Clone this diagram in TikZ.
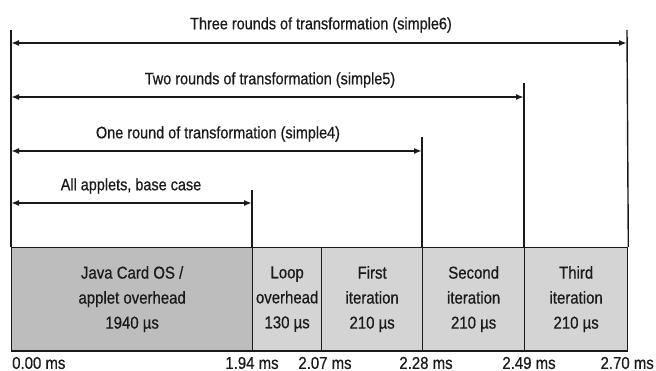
\documentclass[tikz,border=0pt]{standalone}
\usepackage{fontspec}
\setmainfont{Liberation Sans}[FakeStretch=0.87, FakeBold=0.6]
\usetikzlibrary{arrows.meta}
\definecolor{darkcell}{HTML}{BDBDBD}
\definecolor{lightcell}{HTML}{D4D4D4}
\definecolor{ink}{HTML}{1A1A1A}
\tikzset{
  span/.style={line width=2.2pt, draw=ink, {Latex[length=8pt,width=6pt]}-{Latex[length=8pt,width=6pt]}},
  tick/.style={line width=1.4pt, draw=ink},
  lbl/.style={font=\fontsize{16.6}{19}\selectfont, text=ink, inner sep=0pt},
  cell/.style={draw=ink, line width=1.3pt, anchor=north west, minimum height=103, align=center,
    font=\fontsize{17.2}{25}\selectfont, text=ink, inner sep=0pt},
  mslbl/.style={font=\fontsize{17.2}{19}\selectfont, text=ink, inner sep=0pt},
}
\begin{document}
\begin{tikzpicture}[x=1pt,y=-1pt]
\useasboundingbox (0,0) rectangle (656,371);
% cells
\node[cell, fill=darkcell, minimum width=241] (c1) at (11,247) {Java Card OS /\\applet overhead\\1940 µs};
\node[cell, fill=lightcell, minimum width=69] (c2) at (252,247) {Loop\\overhead\\130 µs};
\node[cell, fill=lightcell, minimum width=101] (c3) at (321,247) {First\\iteration\\210 µs};
\node[cell, fill=lightcell, minimum width=102] (c4) at (422,247) {Second\\iteration\\210 µs};
\node[cell, fill=lightcell, minimum width=103] (c5) at (524,247) {Third\\iteration\\210 µs};
\draw[line width=2pt, draw=ink] (c1.south west) -- (c5.south east);
% tick tops
\coordinate (t0) at (11,30);
\coordinate (t6) at (627,30);
\coordinate (t5) at (524,83);
\coordinate (t4) at (422,137);
\coordinate (t1) at (252,190);
\draw[tick] (t0) -- (c1.north west);
\draw[tick] (t6) -- (c5.north east);
\draw[tick] (t5) -- (c5.north west);
\draw[tick] (t4) -- (c4.north west);
\draw[tick] (t1) -- (c2.north west);
% arrow ends
\coordinate (a6l) at (11,43);  \coordinate (a6r) at (627,43);
\coordinate (a5l) at (11,97);  \coordinate (a5r) at (524,97);
\coordinate (a4l) at (11,151); \coordinate (a4r) at (422,151);
\coordinate (a1l) at (11,203); \coordinate (a1r) at (252,203);
\draw[span] (a6l) -- (a6r);
\draw[span] (a5l) -- (a5r);
\draw[span] (a4l) -- (a4r);
\draw[span] (a1l) -- (a1r);
% labels
\node[lbl] (l6) at (321,25) {Three rounds of transformation (simple6)};
\node[lbl] (l5) at (270,80) {Two rounds of transformation (simple5)};
\node[lbl] (l4) at (218,134) {One round of transformation (simple4)};
\node[lbl] (l1) at (131,186) {All applets, base case};
% time labels
\node[mslbl, anchor=west] (m0) at (12,363) {0.00 ms};
\node[mslbl] (m1) at (252,363) {1.94 ms};
\node[mslbl] (m2) at (325,363) {2.07 ms};
\node[mslbl] (m3) at (426,363) {2.28 ms};
\node[mslbl] (m4) at (529,363) {2.49 ms};
\node[mslbl, anchor=east] (m5) at (654,363) {2.70 ms};
\end{tikzpicture}
\end{document}
